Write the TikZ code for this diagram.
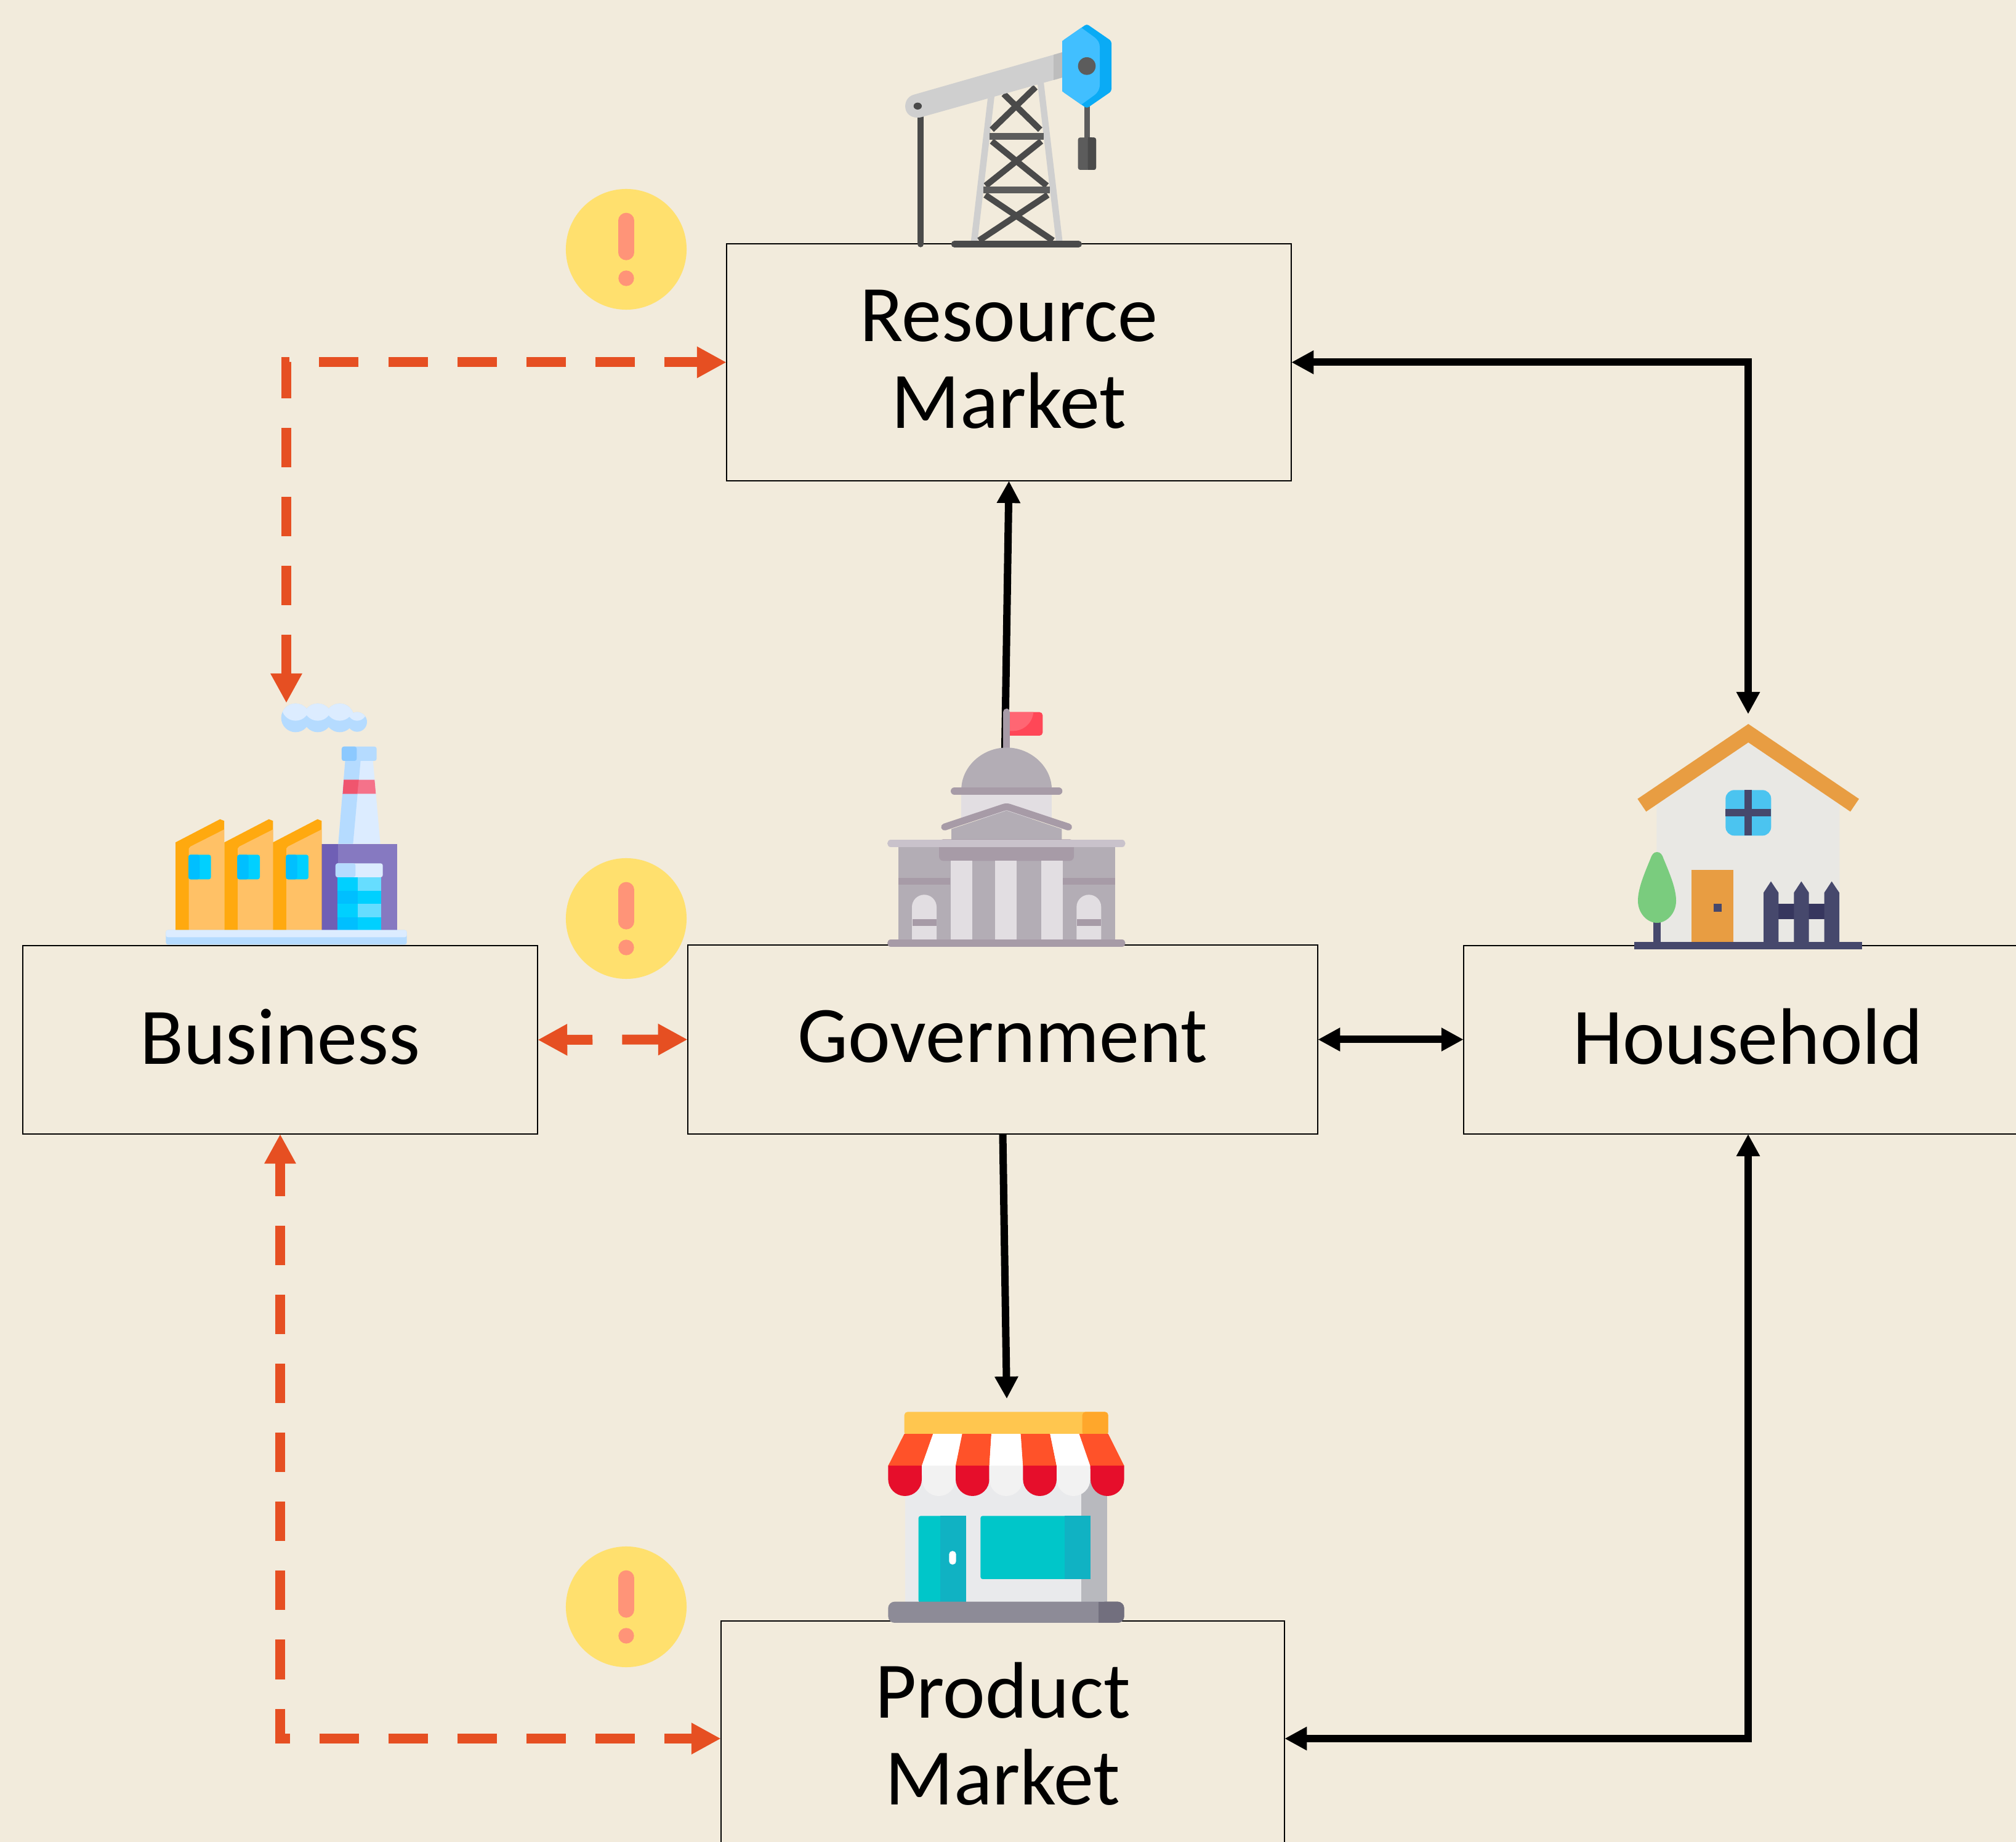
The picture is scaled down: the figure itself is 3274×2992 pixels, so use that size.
\documentclass[tikz,border=0pt]{standalone}
\usepackage{fontspec}
\setmainfont{Carlito}
\usetikzlibrary{arrows.meta}
\definecolor{bgc}{HTML}{F2EBDC}
\definecolor{redc}{HTML}{E64F22}
\definecolor{dk}{HTML}{4A4A4A}
\definecolor{dm}{HTML}{5C5C5C}
\definecolor{lg}{HTML}{CFCFCF}
\definecolor{lgd}{HTML}{BDBDBD}
\definecolor{lb}{HTML}{DCECFF}
\definecolor{mb}{HTML}{B5DBFF}
\definecolor{sb}{HTML}{8CC9FF}
\definecolor{cy}{HTML}{00D0FF}
\definecolor{cz}{HTML}{00BFFF}
\definecolor{cw}{HTML}{66DDFF}
\definecolor{gv}{HTML}{B3ADB5}
\definecolor{gd}{HTML}{A79BA7}
\definecolor{gl}{HTML}{E2DEE2}
\definecolor{gs}{HTML}{C9C2CB}
\definecolor{nv}{HTML}{46486C}
\definecolor{nw}{HTML}{36365E}
\definecolor{og}{HTML}{E89D42}
\definecolor{tl}{HTML}{00C6C9}
\definecolor{tm}{HTML}{10B2C3}
\definecolor{hdd}{HTML}{0AABF5}
\definecolor{hdl}{HTML}{41BFFF}
\definecolor{bnl}{HTML}{F5728A}
\definecolor{bnd}{HTML}{F0556E}
\definecolor{ppl}{HTML}{8679C1}
\definecolor{ppd}{HTML}{6F5FB5}
\definecolor{shd}{HTML}{FFA90F}
\definecolor{shl}{HTML}{FFC166}
\definecolor{fgd}{HTML}{FF4757}
\definecolor{fgl}{HTML}{FF6673}
\definecolor{wal}{HTML}{E9E8E4}
\definecolor{wnd}{HTML}{4BC4F0}
\definecolor{tre}{HTML}{7ACC7E}
\definecolor{swl}{HTML}{E9EAEC}
\definecolor{swd}{HTML}{B8B9BE}
\definecolor{bry}{HTML}{FFC64F}
\definecolor{bro}{HTML}{FFA72B}
\definecolor{awr}{HTML}{FF5229}
\definecolor{scr}{HTML}{E60E2B}
\definecolor{scw}{HTML}{F2F2F2}
\definecolor{fll}{HTML}{8D8B97}
\definecolor{fld}{HTML}{726F7E}
\definecolor{warnbgc}{HTML}{FFE06E}
\definecolor{warnfg}{HTML}{FF9478}
\newcommand{\px}{0.2845pt}
\newcommand{\zp}{0.0948pt}
\newcommand{\up}[1]{\raisebox{1.4pt}[\height][\depth]{#1}}
\newcommand{\warnicon}[3]{%
  \begin{scope}[shift={(#1,#2)},scale=1/3]
    \node[warnbg] (#3) at (0,0) {};
    \draw[line width=76*\zp,line cap=round,color=warnfg] (0,-140) -- (0,15);
    \fill[warnfg] (0,141) circle[radius=38];
  \end{scope}}
\tikzset{
  market/.style={draw=black,line width=2*\px,font=\fontsize{37pt}{40pt}\selectfont,align=center,inner sep=0pt,outer sep=0pt},
  flow/.style={draw=black,line width=12*\px,{Triangle[length=36*\px,width=36*\px]}-{Triangle[length=36*\px,width=36*\px]}},
  flowone/.style={draw=black,line width=12*\px,-{Triangle[length=36*\px,width=36*\px]}},
  riskflow/.style={draw=redc,line width=16*\px,dash pattern=on 18.208pt off 13.656pt,dash phase=2.276pt,{Triangle[length=48*\px,width=48*\px]}-{Triangle[length=48*\px,width=48*\px]}},
  warnbg/.style={circle,fill=warnbgc,minimum size=196*\px,inner sep=0pt,outer sep=0pt},
}
\begin{document}
\begin{tikzpicture}[x=0.01cm,y=-0.01cm]
\useasboundingbox (0,0) rectangle (3274,2992);
\clip (0,0) rectangle (3274,2992);
\fill[bgc] (0,0) rectangle (3274,2992);
% boxes
\node[market,minimum width=917*\px,minimum height=385*\px] (res) at (1638.5,588.5) {\up{Resource}\\\up{Market}};
\node[market,minimum width=836*\px,minimum height=306*\px] (bus) at (455,1689) {\up{Business}};
\node[market,minimum width=1023*\px,minimum height=307*\px] (gov) at (1628.5,1688.5) {\up{Government}};
\node[market,minimum width=923*\px,minimum height=306*\px] (hou) at (2838.5,1689) {\up{Household}};
\node[market,minimum width=915*\px,minimum height=377*\px] (pro) at (1628.5,2821.5) {\up{Product}\\\up{Market}};
% free ends
\coordinate (hoicon) at (2839,1160);
\coordinate (buicon) at (465,1142);
\coordinate (goflag) at (1632,1215);
\coordinate (prtop) at (1635,2272);
\coordinate (c1) at (2839,588.5);
\coordinate (c2) at (2839,2824);
\coordinate (c3) at (465,588.5);
\coordinate (c4) at (455,2824);
% black connectors
\draw[flow] (res.east) -- (c1) -- (hoicon);
\draw[flow] (pro.east |- c2) -- (c2) -- (hou.south -| c2);
\draw[flowone] (goflag) -- (res.south);
\draw[flowone] (gov.south) -- (prtop);
\draw[flow] (gov.east) -- (gov.east -| hou.west);
% red connectors
\draw[riskflow] (res.west) -- (c3) -- (buicon);
\draw[riskflow,dash phase=5.69pt] (bus.east) -- (gov.west);
\draw[riskflow] (bus.south) -- (c4) -- (pro.west |- c4);
% warnings
\warnicon{1017}{405}{wa}
\warnicon{1017}{1492}{wb}
\warnicon{1017}{2610}{wc}
% pump jack
\begin{scope}[shift={(1400,0)},scale=1/3]
  \draw[dk,line width=30*\zp,line cap=round] (285,570) -- (285,1190);
  \fill[lg] (612,480) -- (645,470) -- (562,1178) -- (530,1178) -- cycle;
  \fill[lg] (855,410) -- (885,400) -- (977,1178) -- (945,1178) -- cycle;
  \begin{scope}[dk,line width=30*\zp]
    \draw (690,458) -- (868,632);
    \draw (845,425) -- (632,632);
    \draw (632,688) -- (900,905);
    \draw (873,688) -- (602,905);
    \draw (600,950) -- (930,1172);
    \draw (905,950) -- (570,1172);
  \end{scope}
  \fill[dm] (622,648) rectangle (884,680);
  \fill[dm] (590,910) rectangle (915,942);
  \draw[dk,line width=32*\zp,line cap=round] (450,1190) -- (1055,1190);
  \fill[lg] (975,255) -- (250,462) .. controls (190,480) and (195,585) .. (285,572) -- (975,378) -- cycle;
  \fill[lgd] (933,267) -- (975,255) -- (975,378) -- (933,390) -- cycle;
  \fill[dk] (271,517) ellipse[x radius=20,y radius=17];
  \fill[dm] (1082,520) rectangle (1110,675);
  \fill[dm,rounded corners=1pt] (1052,670) rectangle (1140,828);
  \fill[dk,rounded corners=1pt] (1100,670) rectangle (1140,828);
  \fill[dk] (1100,670) rectangle (1120,828);
  \fill[hdd,rounded corners=1pt] (1095,117) -- (1215,200) -- (1215,445) -- (1095,528) -- (975,445) -- (975,200) -- cycle;
  \fill[hdl] (975,200) -- (1068,135) -- (1130,180) .. controls (1150,195) and (1158,210) .. (1158,230) -- (1158,410) .. controls (1158,435) and (1150,450) .. (1130,465) -- (1068,510) -- (975,445) -- cycle;
  \fill[dm] (1095,322) circle[radius=43];
\end{scope}
% factory
\begin{scope}[shift={(240,1120)},scale=1/3]
  \fill[mb] (720,138) circle[radius=70] (828,138) circle[radius=70] (935,138) circle[radius=70] (1020,158) circle[radius=48];
  \begin{scope}
    \clip (720,138) circle[radius=70] (828,138) circle[radius=70] (935,138) circle[radius=70] (1020,158) circle[radius=48];
    \fill[lb] (720,84) circle[radius=68] (828,84) circle[radius=68] (935,84) circle[radius=68] (1020,106) circle[radius=46];
  \end{scope}
  \fill[lb] (962,345) -- (1097,345) -- (1133,752) -- (928,752) -- cycle;
  \fill[mb] (962,345) -- (1037,345) -- (1000,752) -- (928,752) -- cycle;
  \fill[bnl] (955,440) -- (1105,440) -- (1111,508) -- (950,508) -- cycle;
  \fill[bnd] (955,440) -- (1028,440) -- (1021,508) -- (950,508) -- cycle;
  \fill[mb,rounded corners=1pt] (945,278) rectangle (1115,348);
  \fill[sb,rounded corners=1pt] (945,278) rectangle (1018,348);
  \fill[ppl] (847,752) rectangle (1214,1175);
  \fill[ppd] (847,752) rectangle (928,1175);
  \fill[cy] (925,915) rectangle (1023,980);
  \fill[cz] (925,980) rectangle (1023,1045);
  \fill[cy] (925,1045) rectangle (1023,1110);
  \fill[cz] (925,1110) rectangle (1023,1175);
  \fill[cw] (1023,915) rectangle (1137,980);
  \fill[cy] (1023,980) rectangle (1137,1045);
  \fill[cw] (1023,1045) rectangle (1137,1110);
  \fill[cy] (1023,1110) rectangle (1137,1175);
  \fill[lb,rounded corners=1pt] (915,847) rectangle (1145,915);
  \fill[mb,rounded corners=1pt] (915,847) rectangle (1012,915);
  \foreach \dx in {0,238,475}{
    \begin{scope}[shift={(\dx,0)}]
      \fill[shd] (135,745) -- (352,632) -- (372,640) -- (372,1175) -- (135,1175) -- cycle;
      \fill[shl] (372,682) -- (208,765) -- (200,775) -- (200,1175) -- (372,1175) -- cycle;
      \fill[cy,rounded corners=1pt] (198,805) rectangle (308,925);
      \fill[cz,rounded corners=1pt] (198,805) rectangle (253,925);
    \end{scope}}
  \fill[mb,rounded corners=1pt] (88,1172) rectangle (1262,1243);
  \fill[lb,rounded corners=1pt] (88,1172) rectangle (1262,1207);
\end{scope}
% capitol
\begin{scope}[shift={(1400,1130)},scale=1/3]
  \fill[fgd,rounded corners=1.5pt] (700,80) rectangle (880,195);
  \fill[fgl] (720,80) -- (835,80) .. controls (830,135) and (785,172) .. (735,172) -- (720,172) -- cycle;
  \draw[gd,line width=34*\zp,line cap=round] (704,80) -- (704,260);
  \fill[gv] (484,448) .. controls (490,340) and (590,253) .. (704,253) .. controls (818,253) and (918,340) .. (924,448) -- cycle;
  \fill[gl] (483,480) rectangle (925,600);
  \draw[gd,line width=36*\zp,line cap=round] (450,465) -- (958,465);
  \fill[gv] (435,650) -- (704,560) -- (973,650) -- (973,705) -- (435,705) -- cycle;
  \draw[gd,line width=34*\zp,line cap=round,line join=round] (402,640) -- (688,545) .. controls (700,541) and (708,541) .. (720,545) -- (1006,640);
  \fill[gv] (176,735) rectangle (1233,1195);
  \fill[gd,rounded corners=2pt] (375,700) -- (375,805) -- (1032,805) -- (1032,700) -- cycle;
  \draw[gs,line width=34*\zp,line cap=round] (140,720) -- (1266,720);
  \fill[gl] (431,805) rectangle (536,1192);
  \fill[gl] (647,805) rectangle (752,1192);
  \fill[gl] (872,805) rectangle (977,1192);
  \fill[gd] (176,888) rectangle (430,922);
  \fill[gd] (978,888) rectangle (1233,922);
  \foreach \wx in {243,1045}{
    \fill[gl] (\wx,1192) -- (\wx,1030) arc[start angle=180,end angle=360,radius=60] -- (\wx+120,1192) -- cycle;
    \fill[gd] (\wx+2,1088) rectangle (\wx+119,1121);}
  \draw[gd,line width=34*\zp,line cap=round] (140,1206) -- (1266,1206);
\end{scope}
% house
\begin{scope}[shift={(2620,1150)},scale=1/3]
  \fill[wal] (211,470) -- (658,165) -- (1102,470) -- (1102,1145) -- (211,1145) -- cycle;
  \fill[og] (118,443) -- (658,78) -- (1197,443) -- (1155,505) -- (658,168) -- (160,505) -- cycle;
  \fill[wnd,rounded corners=4pt] (547,400) rectangle (769,622);
  \fill[nv] (639,400) rectangle (676,622);
  \fill[nv] (547,492) rectangle (769,529);
  \fill[og] (380,789) rectangle (584,1145);
  \fill[nv] (490,955) rectangle (528,992);
  \fill[nw] (805,955) rectangle (1030,1028);
  \foreach \dx in {0,148,296}{
    \fill[nv] (732+\dx,1145) -- (732+\dx,900) -- (768+\dx,845) -- (805+\dx,900) -- (805+\dx,1145) -- cycle;}
  \fill[nv] (194,1040) rectangle (232,1145);
  \fill[tre] (213,702) .. controls (197,702) and (187,715) .. (181,735) .. controls (150,810) and (120,880) .. (120,940) .. controls (120,1000) and (165,1047) .. (213,1047) .. controls (261,1047) and (306,1000) .. (306,940) .. controls (306,880) and (276,810) .. (245,735) .. controls (239,715) and (229,702) .. (213,702) -- cycle;
  \fill[nv] (102,1140) rectangle (1213,1177);
\end{scope}
% shop
\begin{scope}[shift={(1400,2260)},scale=1/3]
  \fill[swl] (210,430) rectangle (1193,1030);
  \fill[swd] (1069,430) rectangle (1193,1030);
  \fill[bry,rounded corners=1.5pt] (206,100) rectangle (1199,215);
  \fill[bro,rounded corners=1.5pt] (1073,100) -- (1199,100) -- (1199,215) -- (1073,215) -- cycle;
  \fill[tl,rounded corners=1pt] (577,607) rectangle (1112,915);
  \fill[tm] (987,607) rectangle (1112,915);
  \fill[tl,rounded corners=1pt] (275,1030) -- (275,607) -- (506,607) -- (506,1030) -- cycle;
  \fill[tm] (380,607) rectangle (506,1030);
  \fill[white,rounded corners=1.5pt] (424,778) rectangle (458,844);
  \foreach \ta/\tb/\ba/\bb/\cl/\sc in {206/346/127/291/awr/scr,346/488/291/456/white/scw,488/630/456/620/awr/scr,630/773/620/784/white/scw,773/916/784/948/awr/scr,916/1058/948/1112/white/scw,1058/1199/1112/1277/awr/scr}{
    \fill[fill=\cl] (\ta,207) -- (\tb,207) -- (\bb,363) -- (\ba,363) -- cycle;
    \fill[fill=\sc] (\ba,362) -- (\bb,362) -- (\bb,428) arc[start angle=0,end angle=180,radius=82] -- cycle;
  }
  \fill[fll,rounded corners=3pt] (127,1025) rectangle (1277,1128);
  \fill[fld,rounded corners=3pt] (1152,1025) -- (1277,1025) -- (1277,1128) -- (1152,1128) -- cycle;
  \fill[fld] (1152,1025) rectangle (1180,1128);
\end{scope}
\end{tikzpicture}
\end{document}
